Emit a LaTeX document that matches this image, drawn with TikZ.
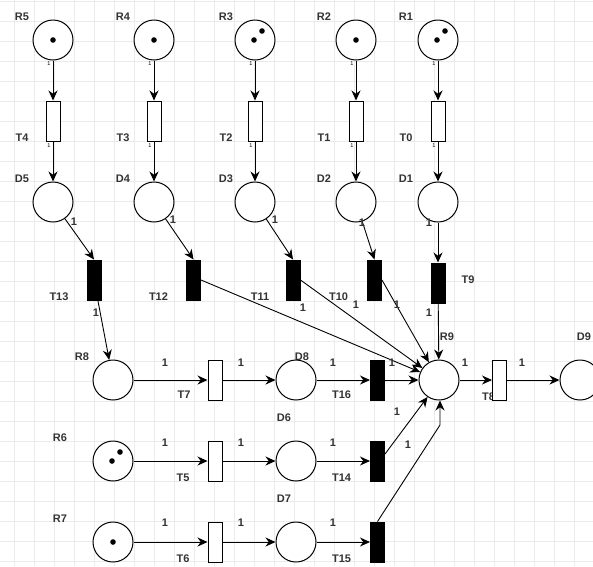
\documentclass[tikz,border=0pt]{standalone}
\usepackage{fontspec}
\setmainfont{Liberation Sans}
\usetikzlibrary{arrows.meta,calc,positioning,backgrounds}
\tikzstyle{place} = [circle, draw, fill=white, line width=1pt,
    minimum size=40pt, inner sep=0pt]
\tikzstyle{trans} = [rectangle, draw, fill=white, line width=1pt,
    minimum width=14pt, minimum height=40pt, inner sep=0pt]
\tikzstyle{bar} = [trans, fill=black]
\tikzstyle{line} = [draw, line width=0.9pt, -{Stealth[length=10pt,width=9pt]}]
\tikzstyle{lbl} = [font=\bfseries\fontsize{11}{13}\selectfont, text=black!80, inner sep=0pt]
\tikzstyle{wt} = [lbl]
\tikzstyle{tiny} = [font=\fontsize{5.5}{6}\selectfont, inner sep=0pt]
\tikzstyle{gridline} = [draw=black!8, line width=0.6pt]

\begin{document}
\begin{tikzpicture}[x=1pt,y=-1pt]
        \useasboundingbox (0,0) rectangle (593,566);
        % Place nodes
        \node [place] (R5) at (53,40) {};
        \node [place] (R4) [right=60pt of R5] {};
        \node [place] (R3) [right=60pt of R4] {};
        \node [place] (R2) [right=60pt of R3] {};
        \node [place] (R1) [right=41pt of R2] {};
        \foreach \r/\t/\d in {R5/T4/D5, R4/T3/D4, R3/T2/D3, R2/T1/D2, R1/T0/D1} {
            \node [trans] (\t) [below=40pt of \r] {};
            \node [place] (\d) [below=40pt of \t] {};
            \path [line] (\r) -- (\t);
            \path [line] (\t) -- (\d);
            \node [tiny] (a\r) at ($(\r.south)+(-4,3)$) {1};
            \node [tiny] (a\t) at ($(\t.south)+(-4,4)$) {1};
        }
        \node [bar] (T13) at (94,280) {};
        \node [bar] (T12) at (193.5,280) {};
        \node [bar] (T11) at (293,280) {};
        \node [bar] (T10) at (374.5,280) {};
        \node [bar] (T9) [below=40pt of D1] {};
        \node [place] (R8) at (113,380) {};
        \node [trans] (T7) [right=74pt of R8] {};
        \node [place] (D8) [right=53pt of T7] {};
        \node [bar] (T16) [right=53.5pt of D8] {};
        \node [place] (R9) [right=33.5pt of T16] {};
        \node [trans] (T8) [right=32.5pt of R9] {};
        \node [place] (D9) [right=52.5pt of T8] {};
        \node [place] (R6) [below=40pt of R8] {};
        \node [trans] (T5) [below=40pt of T7] {};
        \node [place] (D6) [below=40pt of D8] {};
        \node [bar] (T14) [below=40pt of T16] {};
        \node [place] (R7) [below=40pt of R6] {};
        \node [trans] (T6) [below=40pt of T5] {};
        \node [place] (D7) [below=40pt of D6] {};
        \node [bar] (T15) [below=40pt of T14] {};
        \coordinate (K) at (440,425);
        % Tokens
        \foreach \p in {R5, R4, R2, R7} \fill (\p) circle (2.8pt);
        \foreach \p in {R3, R1, R6} {
            \fill ($(\p)+(-1,0)$) circle (2.8pt);
            \fill ($(\p)+(7,-9)$) circle (2.8pt);
        }
        % Draw edges
        \path [line] (D5) -- (T13.north);
        \path [line] (D4) -- (T12.north);
        \path [line] (D3) -- (T11.north);
        \path [line] (D2) -- (T10.north);
        \path [line] (D1) -- (T9);
        \path [line] (T13) -- (R8);
        \path [line] (T12.east) -- (R9);
        \path [line] (T11.east) -- (R9);
        \path [line] (T10.east) -- (R9);
        \path [line] (T9) -- (R9);
        \path [line] (R8) -- (T7);
        \path [line] (T7) -- (D8);
        \path [line] (D8) -- (T16);
        \path [line] (T16) -- (R9);
        \path [line] (R9) -- (T8);
        \path [line] (T8) -- (D9);
        \path [line] (R6) -- (T5);
        \path [line] (T5) -- (D6);
        \path [line] (D6) -- (T14);
        \path [line] (R7) -- (T6);
        \path [line] (T6) -- (D7);
        \path [line] (D7) -- (T15);
        \path [line] ([yshift=7pt]T14.east) -- (R9.236);
        \path [line] (T15.north) -- (K) -- (K |- R9.south);
        % Arc weights
        \foreach \x/\y [count=\i] in {74/222, 173/220, 275/220, 362/223, 429/223,
            96/313, 303/308, 356/305, 397/305, 429/313,
            165/363, 241/363, 333/363, 392/363, 465/363, 522/363,
            165/443, 241/443, 333/443, 165/523, 241/523, 333/523,
            397/412, 408/445}
            \node [wt] (w\i) at (\x,\y) {1};
        % Names, behind the shapes
        \begin{scope}[on background layer]
            \foreach \x in {14,34,...,594} \draw [gridline] (\x,0) -- (\x,566);
            \foreach \y in {1,21,...,561} \draw [gridline] (0,\y) -- (593,\y);
            \foreach \n/\dx/\dy in {R5/-31/-23, R4/-31/-23, R3/-29/-23, R2/-32/-23, R1/-32/-23,
                D5/-31/-23, D4/-31/-23, D3/-29/-23, D2/-32/-23, D1/-32/-23,
                T4/-31/17, T3/-31/17, T2/-29/17, T1/-32/17, T0/-32/17,
                T13/-35/17, T12/-35/17, T11/-33/17, T10/-36/17, T9/30/-3,
                R8/-31/-23, R9/8/-43, D9/4/-43, D8/6/-23,
                T7/-31/15, T16/-36/15, T8/-11/17,
                R6/-53/-23, R7/-53/-23, D6/-12/-43, D7/-12/-43,
                T5/-32/17, T6/-32/17, T14/-36/17, T15/-36/17}
                \node [lbl] (l\n) at ($(\n)+(\dx,\dy)$) {\n};
        \end{scope}
\end{tikzpicture}
\end{document}
